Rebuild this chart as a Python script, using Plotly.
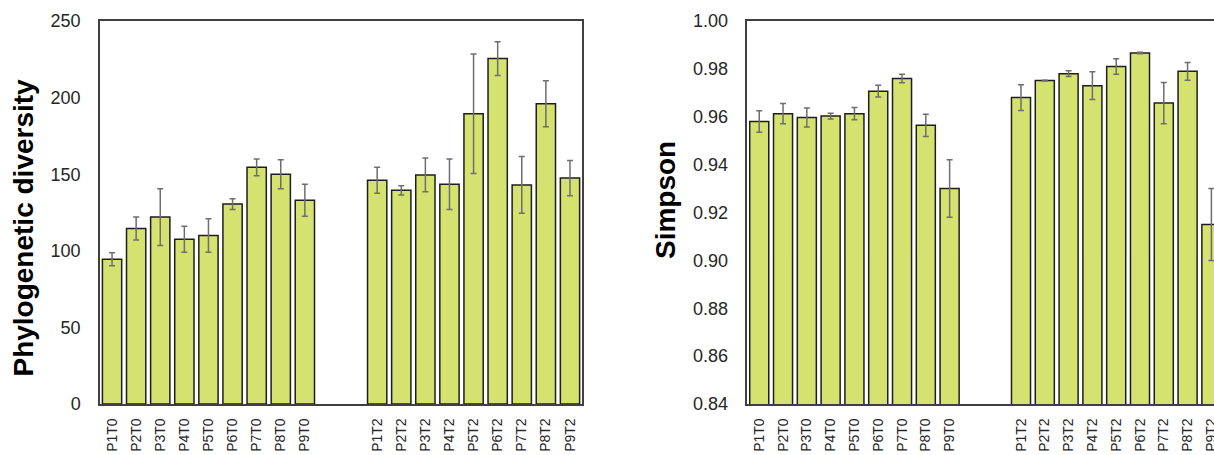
import plotly.graph_objects as go

# Sample labels (two sampling times, nine plots each)
labels_t0 = ["P1T0", "P2T0", "P3T0", "P4T0", "P5T0", "P6T0", "P7T0", "P8T0", "P9T0"]
labels_t2 = ["P1T2", "P2T2", "P3T2", "P4T2", "P5T2", "P6T2", "P7T2", "P8T2", "P9T2"]

# Phylogenetic diversity: means and standard errors
pd_t0 = [94.5, 114.5, 122.0, 107.5, 110.0, 130.5, 154.5, 150.0, 133.0]
pd_t0_err = [4.2, 7.5, 18.5, 8.5, 11.0, 3.5, 5.5, 9.5, 10.5]
pd_t2 = [146.0, 139.5, 149.5, 143.5, 189.5, 225.5, 143.0, 196.0, 147.5]
pd_t2_err = [8.5, 3.0, 11.0, 16.5, 39.0, 11.0, 18.5, 15.0, 11.5]

# Simpson index: means and standard errors
simpson_t0 = [0.958, 0.9613, 0.9597, 0.9603, 0.9613, 0.9707, 0.976, 0.9564, 0.930]
simpson_t0_err = [0.0045, 0.0042, 0.0040, 0.0012, 0.0026, 0.0025, 0.0018, 0.0046, 0.012]
simpson_t2 = [0.968, 0.9751, 0.978, 0.973, 0.981, 0.9866, 0.9657, 0.979, 0.915]
simpson_t2_err = [0.0054, 0.0002, 0.0012, 0.0058, 0.0032, 0.0003, 0.0086, 0.0037, 0.015]

# Slot positions: T0 group, two empty slots, T2 group
pos_t0 = list(range(0, 9))
pos_t2 = list(range(11, 20))
positions = pos_t0 + pos_t2
tick_text = labels_t0 + labels_t2

BAR_FILL = "#d4e270"
BAR_EDGE = "#1e1e1e"
ERR_COLOR = "#6e6e6e"
AXIS_COLOR = "#404040"
TEXT_COLOR = "#262626"
FONT = "Liberation Sans, Arial, sans-serif"

fig = go.Figure()


def add_bars(values, errors, xaxis, yaxis):
    fig.add_trace(go.Bar(
        x=positions,
        y=values,
        width=0.8,
        marker=dict(color=BAR_FILL, line=dict(color=BAR_EDGE, width=1.5)),
        error_y=dict(type="data", array=errors, visible=True,
                     color=ERR_COLOR, thickness=1.5, width=3),
        xaxis=xaxis, yaxis=yaxis,
        showlegend=False,
        hoverinfo="x+y",
    ))


add_bars(pd_t0 + pd_t2, pd_t0_err + pd_t2_err, "x", "y")
add_bars(simpson_t0 + simpson_t2, simpson_t0_err + simpson_t2_err, "x2", "y2")

common_x = dict(
    tickmode="array", tickvals=positions, ticktext=tick_text, tickangle=-90,
    showline=True, linecolor=AXIS_COLOR, linewidth=1.5, mirror=True,
    ticks="outside", ticklen=7, tickcolor="rgba(0,0,0,0)",
    showgrid=False, zeroline=False, automargin=False,
    ticklabeloverflow="allow",
    tickfont=dict(family=FONT, size=14, color=TEXT_COLOR),
)
common_y = dict(
    showline=True, linecolor=AXIS_COLOR, linewidth=1.5,
    ticks="outside", ticklen=14, tickcolor="rgba(0,0,0,0)",
    showgrid=False, zeroline=False, automargin=False,
    tickfont=dict(family=FONT, size=18, color=TEXT_COLOR),
)

fig.update_layout(
    width=1214, height=455,
    margin=dict(l=100, r=0, t=21, b=51, pad=0),
    paper_bgcolor="white", plot_bgcolor="white",
    bargap=0.2,
    xaxis=dict(common_x, domain=[0, 0.4327], range=[-0.5, 19.5]),
    yaxis=dict(common_y, range=[0, 250], dtick=50, mirror=True),
    xaxis2=dict(common_x, domain=[0.5811, 1.0], range=[-0.5, 19.11], anchor="y2"),
    yaxis2=dict(common_y, range=[0.84, 1.0], dtick=0.02, tickformat=".2f",
                anchor="x2", mirror=False),
    annotations=[
        dict(text="<b>Phylogenetic diversity</b>", textangle=-90,
             xref="paper", yref="paper", x=-0.0691, y=0.4608,
             xanchor="center", yanchor="middle", showarrow=False,
             font=dict(family=FONT, size=28, color="#000000")),
        dict(text="<b>Simpson</b>", textangle=-90,
             xref="paper", yref="paper", x=0.5072, y=0.5326,
             xanchor="center", yanchor="middle", showarrow=False,
             font=dict(family=FONT, size=28, color="#000000")),
    ],
)

fig.write_html("out.html")
